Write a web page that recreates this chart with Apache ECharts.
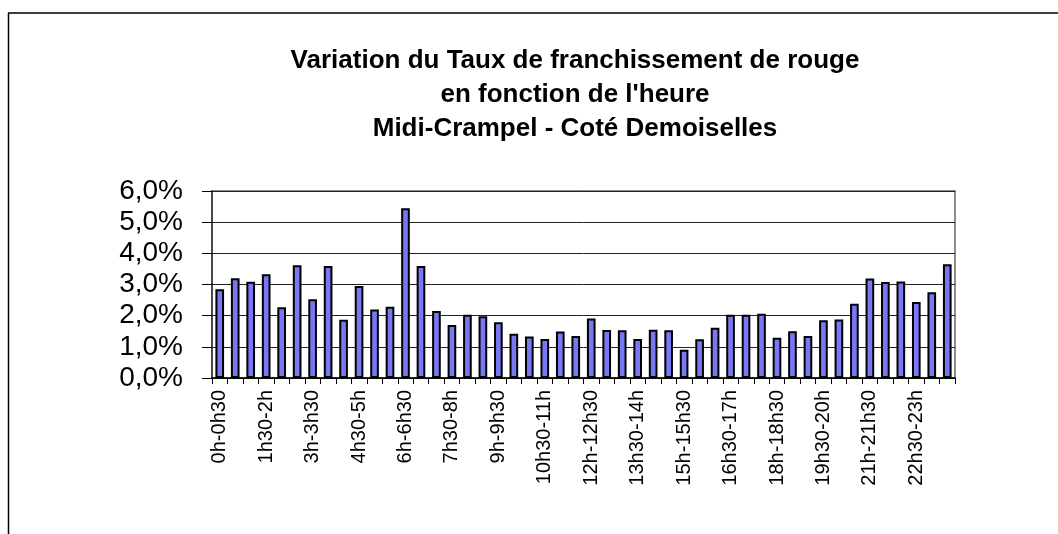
<!DOCTYPE html>
<html>
<head>
<meta charset="utf-8">
<script src="https://cdn.jsdelivr.net/npm/echarts@6/dist/echarts.min.js"></script>
<style>
html,body{margin:0;padding:0;background:#fff;}
#chart{width:1058px;height:534px;}
</style>
</head>
<body>
<div id="chart"></div>
<script>
const titleLines = [
  "Variation du Taux de franchissement de rouge",
  "en fonction de l'heure",
  "Midi-Crampel - Coté Demoiselles"
];
const categories = [
  "0h-0h30","0h30-1h","1h-1h30","1h30-2h","2h-2h30","2h30-3h",
  "3h-3h30","3h30-4h","4h-4h30","4h30-5h","5h-5h30","5h30-6h",
  "6h-6h30","6h30-7h","7h-7h30","7h30-8h","8h-8h30","8h30-9h",
  "9h-9h30","9h30-10h","10h-10h30","10h30-11h","11h-11h30","11h30-12h",
  "12h-12h30","12h30-13h","13h-13h30","13h30-14h","14h-14h30","14h30-15h",
  "15h-15h30","15h30-16h","16h-16h30","16h30-17h","17h-17h30","17h30-18h",
  "18h-18h30","18h30-19h","19h-19h30","19h30-20h","20h-20h30","20h30-21h",
  "21h-21h30","21h30-22h","22h-22h30","22h30-23h","23h-23h30","23h30-0h"
];
// taux de franchissement (%)
const taux = [
  2.85, 3.20, 3.09, 3.33, 2.27, 3.62,
  2.53, 3.59, 1.87, 2.95, 2.20, 2.29,
  5.45, 3.59, 2.15, 1.70, 2.03, 1.98,
  1.79, 1.42, 1.33, 1.25, 1.49, 1.35,
  1.91, 1.54, 1.53, 1.25, 1.55, 1.53,
  0.91, 1.24, 1.61, 2.03, 2.03, 2.06,
  1.29, 1.50, 1.35, 1.85, 1.88, 2.38,
  3.19, 3.08, 3.10, 2.44, 2.75, 3.65
];
const yTicks = [0, 1, 2, 3, 4, 5, 6];

const chart = echarts.init(document.getElementById('chart'), null, {renderer: 'canvas'});
const font = '"Liberation Sans", Arial, sans-serif';
chart.setOption({
  animation: false,
  backgroundColor: '#ffffff',
  title: {
    text: titleLines.join('\n'),
    left: 570,
    textAlign: 'center',
    top: 39,
    textStyle: {
      fontFamily: font, fontWeight: 'bold', fontSize: 26, color: '#000', lineHeight: 34
    }
  },
  graphic: [
    {type: 'line', shape: {x1: 8, y1: 13, x2: 1060, y2: 13}, style: {stroke: '#404040', lineWidth: 2}},
    {type: 'line', shape: {x1: 8.5, y1: 13, x2: 8.5, y2: 540}, style: {stroke: '#000', lineWidth: 1.5}}
  ],
  grid: {
    left: 212, top: 191, right: 103, bottom: 156,
    show: true, borderColor: '#8c8c8c', borderWidth: 2
  },
  xAxis: {
    type: 'category',
    data: categories,
    boundaryGap: true,
    axisLine: {lineStyle: {color: '#000', width: 1.5}},
    axisTick: {show: true, interval: 0, length: 6, lineStyle: {color: '#000'}},
    axisLabel: {
      interval: 2, rotate: 90, fontFamily: font, fontSize: 20, color: '#000', margin: 12
    }
  },
  yAxis: {
    type: 'value',
    min: yTicks[0], max: yTicks[yTicks.length - 1], interval: 1,
    axisLine: {show: true, lineStyle: {color: '#333', width: 1.5}},
    axisTick: {show: true, length: 10, lineStyle: {color: '#000'}},
    splitLine: {lineStyle: {color: '#222', width: 1}},
    axisLabel: {
      fontFamily: font, fontSize: 28, color: '#000', margin: 29,
      formatter: v => v.toFixed(1).replace('.', ',') + '%'
    }
  },
  series: [{
    type: 'bar',
    data: taux,
    barWidth: '56%',
    itemStyle: {color: '#7878f4', borderColor: '#000', borderWidth: 2}
  }]
});
</script>
</body>
</html>
